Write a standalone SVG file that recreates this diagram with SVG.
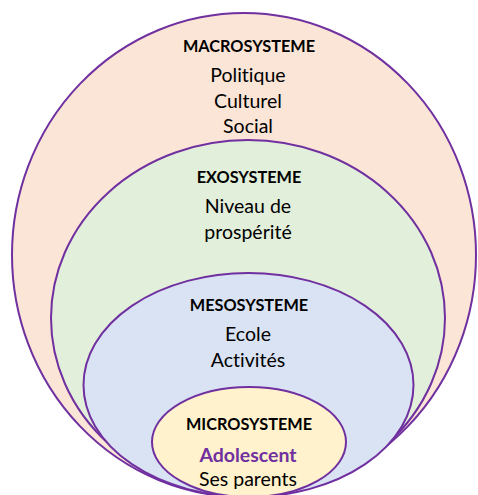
<svg xmlns="http://www.w3.org/2000/svg" width="478" height="495" viewBox="0 0 478 495">
<style>
.ring{stroke:#7030A0;stroke-width:2}
text{font-family:Lato,"Open Sans",sans-serif;text-anchor:middle;font-variant-ligatures:none;font-feature-settings:"liga" 0}
.h{font-weight:bold;font-size:16.3px;fill:#000}
.t{font-size:19.5px;fill:#000}
.p{font-weight:bold;font-size:19.5px;fill:#7030A0}
</style>
<rect width="478" height="495" fill="#fff"/>
<g id="macro">
<ellipse class="ring" cx="244" cy="255" rx="232" ry="242" fill="#FBE5D6"/>
<text class="h" x="249" y="52">MACROSYSTEME</text>
<text class="t" x="248" y="82">Politique</text>
<text class="t" x="248" y="108">Culturel</text>
<text class="t" x="248" y="133">Social</text>
</g>
<g id="exo">
<ellipse class="ring" cx="248" cy="318" rx="197" ry="178" fill="#E2EFDA"/>
<text class="h" x="249" y="183">EXOSYSTEME</text>
<text class="t" x="248" y="213">Niveau de</text>
<text class="t" x="248" y="239">prospérité</text>
</g>
<g id="meso">
<ellipse class="ring" cx="248.5" cy="385" rx="165" ry="112" fill="#DAE3F3"/>
<text class="h" x="249" y="311">MESOSYSTEME</text>
<text class="t" x="248" y="341">Ecole</text>
<text class="t" x="248" y="367">Activités</text>
</g>
<g id="micro">
<ellipse class="ring" cx="249" cy="442" rx="97" ry="55" fill="#FFF2CC"/>
<text class="h" x="249" y="430">MICROSYSTEME</text>
<text class="p" x="248" y="462">Adolescent</text>
<text class="t" x="248" y="486">Ses parents</text>
</g>
<g id="connectors"></g>
</svg>
